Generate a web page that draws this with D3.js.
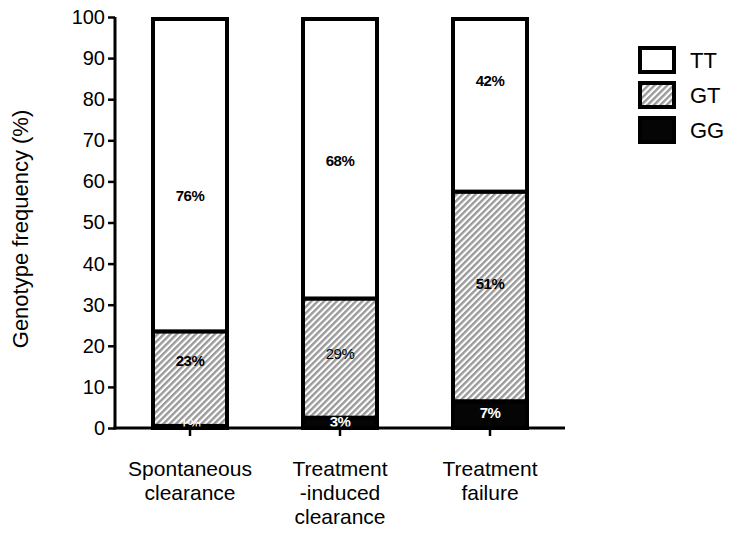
<!DOCTYPE html>
<html><head><meta charset="utf-8">
<script src="https://cdn.jsdelivr.net/npm/d3@7"></script>
<style>body{margin:0;background:#fff}text{font-family:Arial,"Liberation Sans",sans-serif}</style>
</head><body>
<svg id="c" width="735" height="535"></svg>
<script>
const categories = [["Spontaneous","clearance"],["Treatment","-induced","clearance"],["Treatment","failure"]];
const genotypes = ["GG","GT","TT"];
const GG = [1,3,7];
const GT = [23,29,51];
const TT = [76,68,42];
const labelPosGG = [1,1.5,3.8];
const labelPosGT = [16.3,18,35];
const labelPosTT = [56.5,65,84.5];
const labelWeight = {GG:["normal","bold","bold"],GT:["bold","normal","bold"],TT:["bold","bold","bold"]};
const yTicks = [0,10,20,30,40,50,60,70,80,90,100];

const svg = d3.select("#c");
const defs = svg.append("defs");
const pat = defs.append("pattern").attr("id","hatch").attr("patternUnits","userSpaceOnUse")
  .attr("width",4.5).attr("height",4.5).attr("patternTransform","rotate(45)");
pat.append("rect").attr("width",4.5).attr("height",4.5).attr("fill","#fff");
pat.append("rect").attr("width",2.4).attr("height",4.5).attr("fill","#9a9a9a");

const x = d3.scaleBand().domain([0,1,2]).range([115,565]).paddingInner(0.48).paddingOuter(0.24);
const y = d3.scaleLinear().domain([0,100]).range([428,17]);

const series = {GG, GT, TT};
const fills = {GG:"#050505", GT:"url(#hatch)", TT:"#fff"};
const sw = 4;
[0,1,2].forEach(i=>{
  let base = 0;
  genotypes.forEach(g=>{
    const v = series[g][i];
    const top = (g==="TT") ? 100 : base + v;
    const y0 = y(base), y1 = y(top);
    svg.append("rect")
      .attr("x", x(i)+sw/2).attr("width", x.bandwidth()-sw)
      .attr("y", y1+sw/2).attr("height", Math.max(0,y0-y1-sw/2 - (base===0?0:-sw/2)))
      .attr("fill", fills[g]).attr("stroke","#000").attr("stroke-width",sw);
    base = top;
  });
});
// labels
const lp = {GG:labelPosGG, GT:labelPosGT, TT:labelPosTT};
genotypes.forEach(g=>{
  [0,1,2].forEach(i=>{
    svg.append("text").attr("x", x(i)+x.bandwidth()/2).attr("y", y(lp[g][i]))
      .attr("dy","0.35em").attr("text-anchor","middle")
      .attr("font-size",15).attr("font-weight", labelWeight[g][i])
      .attr("fill", g==="GG" ? "#fff" : "#000")
      .attr("letter-spacing", -0.5)
      .text(series[g][i]+"%");
  });
});

// y axis
const ya = svg.append("g").attr("transform","translate(115,0)")
  .call(d3.axisLeft(y).tickValues(yTicks).tickSize(7).tickPadding(3));
ya.select(".domain").attr("stroke-width",3).attr("d","M0,"+(y(0)+1.5)+"V"+y(100));
ya.selectAll(".tick line").attr("stroke-width",2.5);
ya.selectAll(".tick text").attr("font-size",20).attr("fill","#000").attr("font-family","Arial, 'Liberation Sans', sans-serif");

// x axis
const xa = svg.append("g").attr("transform","translate(0,428)")
  .call(d3.axisBottom(x).tickSize(8).tickFormat(""));
xa.select(".domain").attr("stroke-width",3).attr("d","M113.5,0H565");
xa.selectAll(".tick line").attr("stroke-width",2.5);
xa.selectAll(".tick").each(function(d){
  const t = d3.select(this).append("text").attr("fill","#000").attr("font-size",21)
    .attr("text-anchor","middle").attr("font-family","Arial, 'Liberation Sans', sans-serif");
  categories[d].forEach((s,k)=>{
    t.append("tspan").attr("x",0).attr("y",48+k*24).text(s);
  });
});

// y label
svg.append("text").attr("transform","translate(28,229) rotate(-90)")
  .attr("text-anchor","middle").attr("font-size",22).attr("fill","#000")
  .text("Genotype frequency (%)");

// legend
const legend = ["TT","GT","GG"];
const ly = d3.scaleBand().domain(legend).range([46,144]).paddingInner(0.2);
legend.forEach(g=>{
  svg.append("rect").attr("x",640).attr("y",ly(g)+2).attr("width",34).attr("height",ly.bandwidth()-4)
    .attr("fill",fills[g]).attr("stroke","#000").attr("stroke-width",4);
  svg.append("text").attr("x",690).attr("y",ly(g)+ly.bandwidth()/2).attr("dy","0.36em")
    .attr("font-size",22).attr("fill","#000").text(g);
});
</script>
</body></html>
